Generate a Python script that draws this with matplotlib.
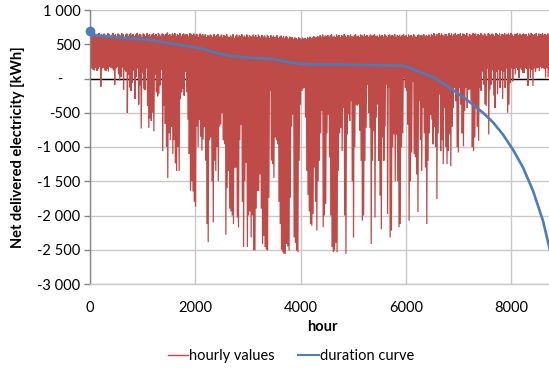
import matplotlib
matplotlib.use('Agg')
import matplotlib.pyplot as plt
from matplotlib.lines import Line2D
from matplotlib.transforms import ScaledTranslation

# ---------------- data ----------------
# daily maximum of the hourly net delivered electricity [kWh]
daily_max = [
    640, 655, 620, 660, 635, 610, 650, 665, 630, 645,
    600, 655, 640, 620, 660, 650, 615, 640, 665, 630,
    645, 610, 655, 640, 625, 660, 650, 605, 640, 655,
    620, 645, 660, 630, 650, 615, 640, 665, 625, 650,
    640, 605, 655, 645, 620, 660, 635, 650, 610, 645,
    660, 630, 650, 620, 665, 640, 615, 655, 645, 625,
    650, 670, 630, 645, 610, 655, 640, 660, 620, 650,
    635, 660, 615, 645, 655, 625, 650, 640, 610, 660,
    645, 630, 655, 620, 650, 640, 605, 655, 635, 650,
    620, 645, 600, 635, 610, 640, 625, 600, 645, 615,
    630, 650, 605, 625, 640, 595, 635, 620, 645, 610,
    600, 630, 615, 645, 590, 625, 640, 605, 630, 615,
    645, 600, 625, 610, 640, 595, 630, 620, 605, 640,
    615, 630, 600, 645, 620, 595, 635, 610, 625, 600,
    640, 615, 590, 630, 605, 625, 600, 615, 635, 590,
    610, 625, 600, 620, 595, 615, 605, 585, 610, 595,
    600, 580, 605, 590, 575, 600, 585, 570, 595, 580,
    590, 575, 600, 585, 610, 590, 600, 615, 595, 605,
    620, 600, 630, 610, 640, 605, 625, 615, 635, 600,
    630, 645, 610, 625, 600, 640, 620, 635, 605, 630,
    615, 645, 625, 600, 635, 610, 640, 620, 605, 630,
    645, 615, 625, 600, 640, 630, 610, 645, 620, 635,
    600, 625, 640, 610, 630, 645, 615, 625, 605, 640,
    620, 635, 610, 645, 625, 600, 630, 640, 615, 635,
    625, 645, 605, 630, 620, 640, 610, 635, 645, 615,
    630, 600, 640, 620, 635, 610, 645, 625, 605, 630,
    640, 615, 635, 625, 645, 610, 630, 620, 640, 605,
    645, 630, 660, 615, 650, 640, 665, 625, 655, 635,
    610, 650, 645, 620, 660, 635, 655, 615, 645, 665,
    630, 650, 640, 660, 620, 655, 645, 635, 665, 610,
    650, 640, 625, 660, 645, 655, 620, 650, 635, 665,
    640, 625, 655, 645, 615, 660, 650, 630, 655, 640,
    620, 665, 645, 635, 655, 610, 650, 640, 660, 625,
    645, 655, 630, 665, 640, 620, 650, 645, 660, 635,
    655, 625, 645, 660, 640, 650, 615, 655, 635, 665,
    645, 630, 650, 660, 620, 655, 640, 645, 660, 630,
    650, 635, 655, 640, 660,
]

# daily minimum of the hourly net delivered electricity [kWh]
daily_min = [
    150, 150, 130, 120, 160, 110, 140, 170, -120, 150,
    160, 120, 110, 140, 100, 170, 160, 150, 120, -90,
    150, 170, 60, -30, 20, 160, -160, 130, 100, -500,
    60, -130, -180, -60, 120, -300, 20, 150, -380, -100,
    -730, 90, -150, -170, 150, -400, -720, -580, -620, -500,
    -770, 60, -200, -260, -220, -100, 130, -1060, -400, -660,
    -1000, -1455, -800, -900, -700, -1100, -900, -1240, -1350, -1000,
    -1350, -300, -200, -150, -250, 100, -200, -600, -1100, -1640,
    -1500, -1650, -1800, -1870, -700, -1000, -600, -850, -1050, -890,
    -700, -1200, -2125, -2390, -900, -860, -1500, -2100, -1200, -1350,
    -1000, -1500, -700, -670, -500, -900, -960, -2280, -1600, -1350,
    -1900, -1940, -2000, -2125, -1300, -1300, -2030, -2175, -900, -670,
    -1800, -2460, -1500, -1230, -2460, -2000, -1940, -2320, -2000, -2510,
    -2510, -1900, -1640, -1640, -1400, -1900, -2415, -2300, -2460, -2500,
    -2510, -1740, -180, -1200, -1250, -1450, -860, -900, -960, -1800,
    -2125, -2500, -2535, -2560, -2560, -2415, -2450, -2510, -1740, -700,
    -525, -2320, -2400, -2512, -2535, -1200, -380, -180, -150, -136,
    -570, -1350, -1700, -1940, -2125, -2150, -1980, -1300, -1800, -2220,
    -1500, -1200, -800, -475, -2170, -2000, -1830, -800, -525, -1150,
    -2000, -2460, -2535, -2512, -2400, -2535, -1350, -800, -720, -1060,
    -430, -2000, -2560, -815, -525, -620, -330, -1500, -2320, -1000,
    -380, -400, -380, -760, -1200, -2076, -2000, -1200, -720, -87,
    -500, -720, -2415, -1200, -766, -2030, -570, -380, -1200, -1710,
    -2200, -860, -1200, -700, -87, -1980, -136, -2320, -2220, -1000,
    -815, -1500, -815, -1500, -2170, -2125, -1000, -800, 10, -136,
    -180, -670, -2076, -1500, -1080, -40, -1100, -1150, -1400, -1950,
    -330, -900, -1350, -430, -800, -1300, -2125, -1200, -800, -525,
    -600, -960, -700, -1000, -1760, -800, -230, -1060, -900, -1250,
    -430, -1000, -1250, -1060, -815, -1280, -700, -430, -136, -330,
    -1000, -1080, -136, -380, -800, -990, -475, -136, -430, -160,
    -160, -330, -1000, -1060, -860, -430, -700, -910, -136, -180,
    100, -87, -380, -400, 150, -815, -160, -87, 120, -250,
    -430, 100, -230, 130, -136, 120, -300, 100, -136, 150,
    -500, -380, -60, 150, -40, 140, 58, 160, 130, 10,
    150, 130, 80, 80, 160, 140, -110, 150, 10, 130,
    -110, 150, 100, 150, 160, 110, 170, 150, 160, 140,
    10, 160, 20, 150, 160,
]

# duration curve (sorted hourly values) read at these hours
duration_hours = [0, 30, 150, 595, 1100, 1355, 1672, 2052, 2180, 2400, 2717,
                  3097, 3477, 3667, 3857, 4173, 4964, 5597, 5945, 6080, 6230,
                  6546, 6833, 7149, 7465, 7655, 7845, 8035, 8225, 8415, 8605,
                  8718, 8760]
duration_values = [690, 650, 627, 596, 568, 535, 496, 447, 423, 374, 325,
                   301, 287, 253, 228, 204, 199, 194, 185, 155, 106,
                   10, -136, -306, -500, -640, -820, -1040, -1300, -1640, -2080,
                   -2445, -2580]

x_ticks = [0, 2000, 4000, 6000, 8000]
y_ticks = [1000, 500, 0, -500, -1000, -1500, -2000, -2500, -3000]
y_tick_labels = ['1 000', '500', '-', '-500', '-1 000', '-1 500', '-2 000',
                 '-2 500', '-3 000']

# ---------------- build hourly line (max/min per day) ----------------
n = min(len(daily_max), len(daily_min))
hours, values = [], []
for d in range(n):
    hours += [d * 24 + 4, d * 24 + 13]
    values += [daily_max[d], daily_min[d]]

RED = '#BE4B48'
BLUE = '#4A7EBB'
GRID = '#C8C8C8'
AXIS = '#868686'

plt.rcParams['font.family'] = ['Lato', 'DejaVu Sans']

W, H = 549, 368
fig = plt.figure(figsize=(W / 100, H / 100), dpi=100)
ax = fig.add_axes([90 / W, 1 - 284 / H, 1 - 90 / W, 274 / H])

ax.set_xlim(0, 8718)
ax.set_ylim(-3000, 1000)

ax.set_axisbelow(True)
ax.grid(True, color=GRID, lw=1.0)
for s in ['top', 'right']:
    ax.spines[s].set_visible(False)
ax.spines['left'].set_color(AXIS)
ax.spines['bottom'].set_color(GRID)
ax.spines['left'].set_linewidth(1.0)
ax.spines['bottom'].set_linewidth(1.0)

ax.axhline(0, color='black', lw=1.0, zorder=1.5)

ax.plot(hours, values, color=RED, lw=0.9, zorder=2, solid_joinstyle='miter')
ax.plot(duration_hours, duration_values, color=BLUE, lw=1.9, zorder=3)
ax.plot(duration_hours[:1], duration_values[:1], 'o', color=BLUE, ms=6,
        zorder=4, clip_on=False)

ax.set_xticks(x_ticks)
ax.set_xticklabels([str(v) for v in x_ticks])
ax.set_yticks(y_ticks)
ax.set_yticklabels(y_tick_labels)
ax.tick_params(axis='y', length=4, color=AXIS, width=1.0, labelsize=10.5, pad=3)
ax.tick_params(axis='x', length=0, labelsize=10.5, pad=12)

# excel-style alignment of the zero dash
for lbl in ax.get_yticklabels():
    if lbl.get_text() == '-':
        lbl.set_transform(lbl.get_transform() +
                          ScaledTranslation(-18 / 100, 0, fig.dpi_scale_trans))

fig.text(322 / W, 1 - 327 / H, 'hour', ha='center', va='center',
         fontsize=10.5, fontweight='bold')
fig.text(18 / W, 1 - 147 / H, 'Net delivered electricity [kWh]', ha='center',
         va='center', rotation=90, fontsize=10.5, fontweight='bold')

handles = [Line2D([], [], color=RED, lw=1.0), Line2D([], [], color=BLUE, lw=1.5)]
fig.legend(handles, ['hourly values', 'duration curve'], loc='center',
           bbox_to_anchor=(291 / W, 1 - 356 / H), ncol=2, frameon=False,
           handlelength=1.4, handletextpad=0.1, columnspacing=1.6,
           fontsize=10.5)

fig.savefig('out.png', dpi=100)
